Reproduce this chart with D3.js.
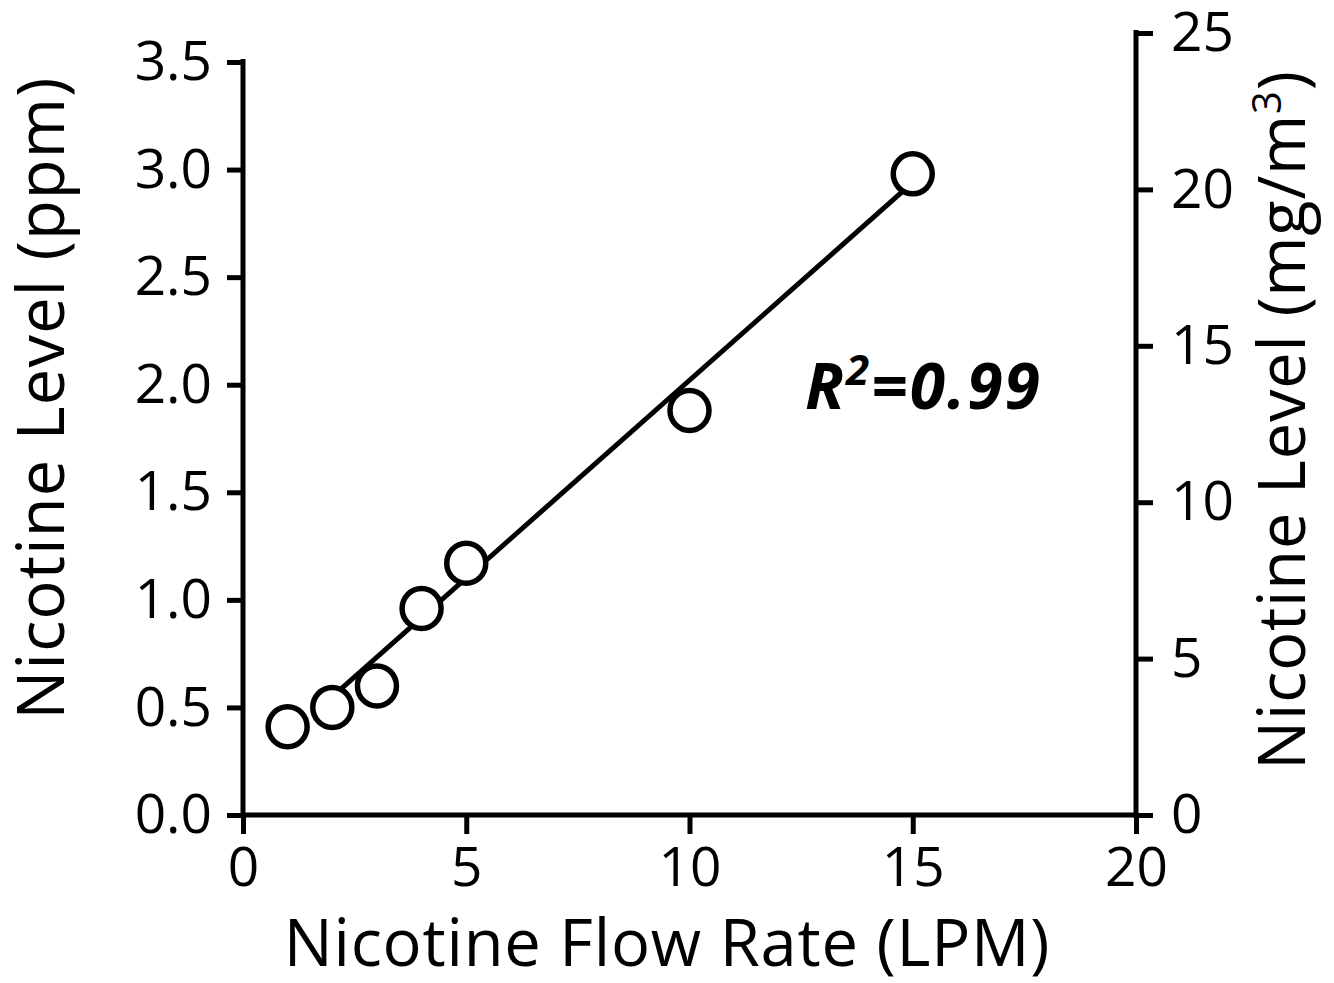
<!DOCTYPE html>
<html>
<head>
<meta charset="utf-8">
<script src="https://cdn.jsdelivr.net/npm/d3@7"></script>
<style>
  body { margin: 0; background: #fff; }
  svg text { font-family: "Open Sans", sans-serif; fill: #000; }
</style>
</head>
<body>
<svg id="chart" width="1334" height="983"></svg>
<script>
// data
const flowRate = [1, 2, 3, 4, 5, 10, 15];
const nicotinePpm = [0.41, 0.50, 0.60, 0.96, 1.17, 1.88, 2.98];
const fitLine = [[2, 0.55], [15, 2.94]];
const xTicks = [0, 5, 10, 15, 20];
const yLeftTicks = [0, 0.5, 1, 1.5, 2, 2.5, 3, 3.5];
const yRightTicks = [0, 5, 10, 15, 20, 25];

const svg = d3.select("#chart");

const x = d3.scaleLinear().domain([0, 20]).range([243, 1136]);
const yL = d3.scaleLinear().domain([0, 3.5]).range([815, 62]);
const yR = d3.scaleLinear().domain([0, 25]).range([815, 33]);

const tickFont = "55px";

// x axis
const gx = svg.append("g")
  .attr("transform", "translate(0,815)")
  .call(d3.axisBottom(x).tickValues(xTicks).tickSize(19).tickPadding(13).tickFormat(d3.format("d")));
gx.select(".domain").attr("stroke-width", 5).attr("d", `M${x(0)},0H${x(20)}`);
gx.selectAll(".tick line").attr("stroke-width", 5);
gx.selectAll(".tick text").style("font-size", tickFont);

// left axis
const gl = svg.append("g")
  .attr("transform", "translate(243,0)")
  .call(d3.axisLeft(yL).tickValues(yLeftTicks).tickSize(16).tickPadding(15).tickFormat(d3.format(".1f")));
gl.select(".domain").attr("stroke-width", 5).attr("d", `M0,${yL(3.5) - 3}V${yL(0) + 3}`);
gl.selectAll(".tick line").attr("stroke-width", 5);
gl.selectAll(".tick text").style("font-size", tickFont);

// right axis
const gr = svg.append("g")
  .attr("transform", "translate(1136,0)")
  .call(d3.axisRight(yR).tickValues(yRightTicks).tickSize(17).tickPadding(18).tickFormat(d3.format("d")));
gr.select(".domain").attr("stroke-width", 5).attr("d", `M0,${yR(25) - 3}V${yR(0) + 3}`);
gr.selectAll(".tick line").attr("stroke-width", 5);
gr.selectAll(".tick text").style("font-size", tickFont);

// regression line
svg.append("path")
  .datum(fitLine)
  .attr("fill", "none")
  .attr("stroke", "#000")
  .attr("stroke-width", 5)
  .attr("d", d3.line().x(d => x(d[0])).y(d => yL(d[1])));

// markers
svg.selectAll("ellipse.pt")
  .data(flowRate.map((f, i) => [f, nicotinePpm[i]]))
  .join("ellipse")
  .attr("class", "pt")
  .attr("cx", d => x(d[0]))
  .attr("cy", d => yL(d[1]))
  .attr("rx", 19.5)
  .attr("ry", 20)
  .attr("fill", "#fff")
  .attr("stroke", "#000")
  .attr("stroke-width", 5.5);

// R squared label
const r2 = svg.append("text")
  .attr("x", 805)
  .attr("y", 409)
  .style("font-size", "64px")
  .style("font-weight", "bold")
  .style("font-style", "italic")
  .style("letter-spacing", "2px");
r2.append("tspan").text("R");
r2.append("tspan").attr("dy", -24).style("font-size", "42px").text("2");
r2.append("tspan").attr("dy", 24).text("=0.99");

// axis titles
svg.append("text")
  .attr("x", 667)
  .attr("y", 966)
  .attr("text-anchor", "middle")
  .style("font-size", "65px")
  .style("letter-spacing", "0.8px")
  .text("Nicotine Flow Rate (LPM)");

svg.append("text")
  .attr("transform", "translate(64,398) rotate(-90)")
  .attr("text-anchor", "middle")
  .style("font-size", "65px")
  .style("letter-spacing", "1.2px")
  .text("Nicotine Level (ppm)");

const rt = svg.append("text")
  .attr("transform", "translate(1305,420) rotate(-90)")
  .attr("text-anchor", "middle")
  .style("font-size", "65px")
  .style("letter-spacing", "0.8px");
rt.append("tspan").text("Nicotine Level (mg/m");
rt.append("tspan").attr("dy", -24).style("font-size", "40px").text("3");
rt.append("tspan").attr("dy", 24).text(")");
</script>
</body>
</html>
